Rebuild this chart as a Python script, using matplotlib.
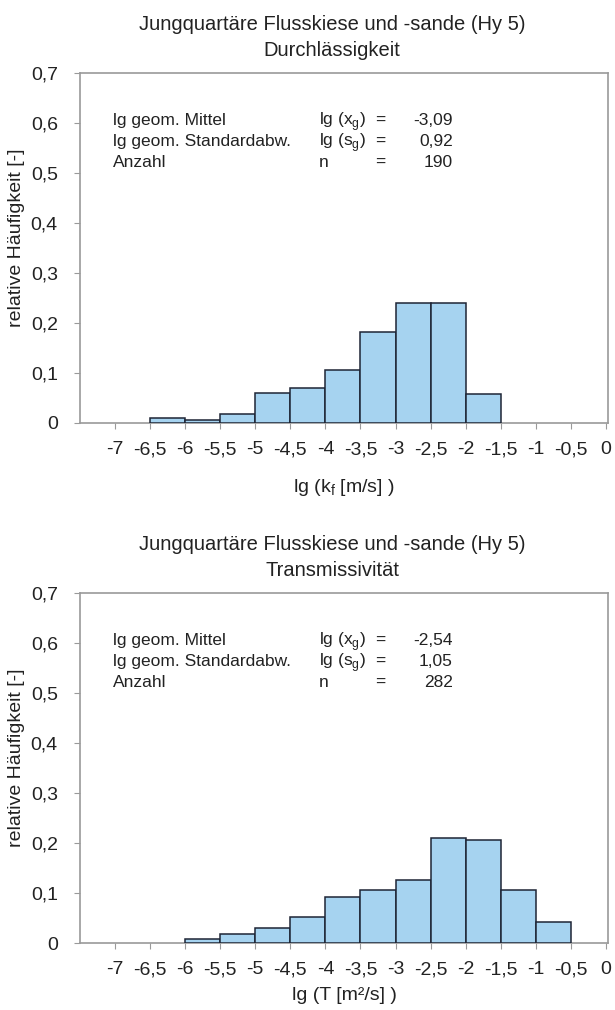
import matplotlib
matplotlib.use("Agg")
import matplotlib.pyplot as plt
import numpy as np

plt.rcParams['font.family'] = ['Liberation Sans', 'DejaVu Sans']

# ---- data ----
bin_width = 0.5
kf_left_edges = [-6.5, -6.0, -5.5, -5.0, -4.5, -4.0, -3.5, -3.0, -2.5, -2.0]
kf_freq = [0.009, 0.005, 0.017, 0.060, 0.070, 0.105, 0.181, 0.239, 0.239, 0.057]

t_left_edges = [-6.0, -5.5, -5.0, -4.5, -4.0, -3.5, -3.0, -2.5, -2.0, -1.5, -1.0]
t_freq = [0.008, 0.019, 0.030, 0.053, 0.093, 0.107, 0.127, 0.210, 0.207, 0.107, 0.042]

x_ticks = [-7, -6.5, -6, -5.5, -5, -4.5, -4, -3.5, -3, -2.5, -2, -1.5, -1, -0.5, 0]
x_ticklabels = ["-7", "-6,5", "-6", "-5,5", "-5", "-4,5", "-4", "-3,5", "-3",
                "-2,5", "-2", "-1,5", "-1", "-0,5", "0"]
y_ticks = [0, 0.1, 0.2, 0.3, 0.4, 0.5, 0.6, 0.7]
y_ticklabels = ["0", "0,1", "0,2", "0,3", "0,4", "0,5", "0,6", "0,7"]

title_main = "Jungquartäre Flusskiese und -sande (Hy 5)"
subtitles = ["Durchlässigkeit", "Transmissivität"]
xlabels = [r"lg (k$_\mathregular{f}$ [m/s] )", "lg (T [m²/s] )"]
ylabel = "relative Häufigkeit [-]"

stat_labels = ["lg geom. Mittel", "lg geom. Standardabw.", "Anzahl"]
stat_symbols = [r"lg (x$_\mathregular{g}$)", r"lg (s$_\mathregular{g}$)", "n"]
stats_kf = ["-3,09", "0,92", "190"]
stats_t = ["-2,54", "1,05", "282"]

# ---- figure ----
W, H = 615, 1010
fig = plt.figure(figsize=(W / 100, H / 100), dpi=100)
fig.patch.set_facecolor("white")

bar_color = "#a6d3f0"
edge_color = "#1e2535"
frame_color = "#9a9a9a"
text_color = "#222222"


def px_axes(left, top, right, bottom):
    return fig.add_axes([left / W, 1 - bottom / H, (right - left) / W, (bottom - top) / H])


def fy(y):
    return 1 - y / H


panels = [
    dict(top=73, bottom=423, edges=kf_left_edges, freq=kf_freq, stats=stats_kf,
         sub=subtitles[0], xl=xlabels[0], xl_off=65),
    dict(top=593, bottom=943, edges=t_left_edges, freq=t_freq, stats=stats_t,
         sub=subtitles[1], xl=xlabels[1], xl_off=53),
]

for p in panels:
    top, bottom = p["top"], p["bottom"]
    ax = px_axes(80, top, 608, bottom)
    ax.bar(p["edges"], p["freq"], width=bin_width, align="edge",
           color=bar_color, edgecolor=edge_color, linewidth=1.1, zorder=3)
    ax.set_xlim(-7.5, 0.03)
    ax.set_ylim(0, 0.7)
    ax.set_xticks(x_ticks)
    ax.set_xticklabels(x_ticklabels)
    ax.set_yticks(y_ticks)
    ax.set_yticklabels(y_ticklabels)
    ax.tick_params(axis="both", colors=frame_color, labelcolor=text_color,
                   labelsize=14, length=4, width=0.8, direction="out")
    ax.tick_params(axis="x", pad=9)
    ax.tick_params(axis="y", pad=12)
    for s in ax.spines.values():
        s.set_color(frame_color)
        s.set_linewidth(1.2)

    # axis labels
    fig.text(344 / W, fy(bottom + p["xl_off"]), p["xl"], ha="center", va="center",
             fontsize=14, color=text_color)
    fig.text(17 / W, fy((top + bottom) / 2 - 10), ylabel, ha="center", va="center",
             rotation=90, fontsize=14, color=text_color)

    # titles
    cx = 332 / W
    fig.text(cx, fy(top - 48), title_main, ha="center", va="center",
             fontsize=14.5, color=text_color)
    fig.text(cx, fy(top - 23), p["sub"], ha="center", va="center",
             fontsize=14.5, color=text_color)

    # statistics block (baseline aligned)
    for i in range(3):
        y = fy(top + 52 + i * 21)
        kw = dict(va="baseline", fontsize=12.5, color=text_color)
        fig.text(113 / W, y, stat_labels[i], ha="left", **kw)
        fig.text(319 / W, y, stat_symbols[i], ha="left", **kw)
        fig.text(375 / W, y, "=", ha="left", **kw)
        fig.text(453 / W, y, p["stats"][i], ha="right", **kw)

fig.savefig("out.png", dpi=100, facecolor="white")
